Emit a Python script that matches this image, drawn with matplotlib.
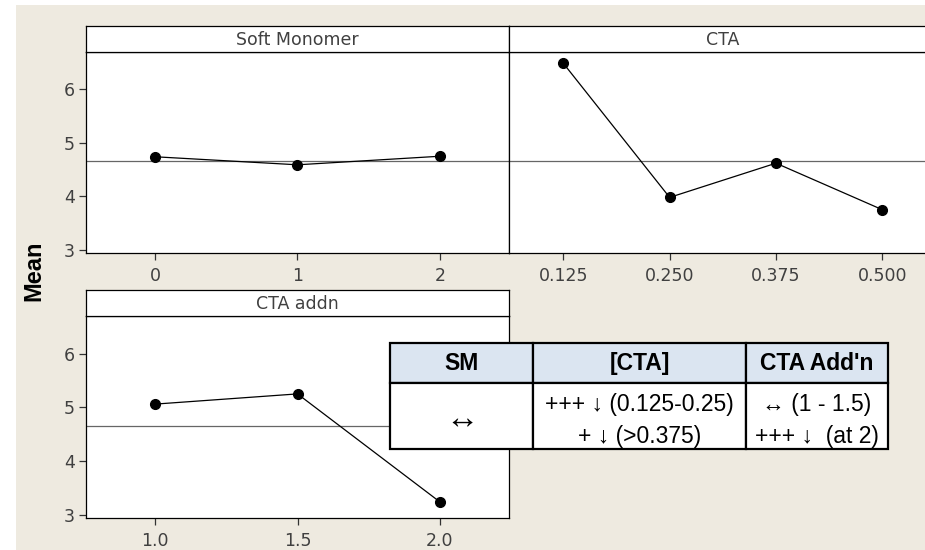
import matplotlib.pyplot as plt
from matplotlib.patches import Rectangle

# --- data ---
sm_levels = [0, 1, 2]
sm_means = [4.74, 4.59, 4.75]
cta_levels = [0.125, 0.250, 0.375, 0.500]
cta_labels = ["0.125", "0.250", "0.375", "0.500"]
cta_means = [6.49, 3.98, 4.62, 3.75]
addn_levels = [1.0, 1.5, 2.0]
addn_labels = ["1.0", "1.5", "2.0"]
addn_means = [5.06, 5.25, 3.24]
grand_mean = 4.66

y_ticks = [3, 4, 5, 6]
panel_titles = ["Soft Monomer", "CTA", "CTA addn"]

table_header = ["SM", "[CTA]", "CTA Add'n"]
table_body = [["\u2194"],
              ["+++ \u2193 (0.125-0.25)", "+ \u2193 (>0.375)"],
              ["\u2194 (1 - 1.5)", "+++ \u2193  (at 2)"]]

W, H = 925, 550
BG = "#eeeae0"
TXT = "#404040"
LABEL_FONT = ["DejaVu Sans"]
TABLE_FONT = ["Liberation Sans", "DejaVu Sans"]

fig = plt.figure(figsize=(W / 100, H / 100), dpi=100)
fig.patch.set_facecolor("white")


def fx(x):
    return x / W


def fy(y):
    return 1 - y / H


def box(x0, y0, x1, y1):
    # pixel box (top-left origin) -> figure fraction rect
    return [fx(x0), fy(y1), (x1 - x0) / W, (y1 - y0) / H]


fig.patches.append(Rectangle((fx(16), 0), 1, fy(5), transform=fig.transFigure,
                             facecolor=BG, edgecolor="none", zorder=-10))


def panel(rect, strip_rect, title, levels, means, xlim, ticklabels, show_y):
    ax = fig.add_axes(rect)
    ax.set_facecolor("white")
    ax.axhline(grand_mean, color="#666666", lw=0.9, zorder=1)
    ax.plot(levels, means, color="black", lw=0.9, marker="o", ms=7, zorder=3)
    ax.set_xlim(*xlim)
    ax.set_ylim(2.94, 6.70)
    ax.set_xticks(levels)
    ax.set_xticklabels(ticklabels)
    if show_y:
        ax.set_yticks(y_ticks)
    else:
        ax.set_yticks([])
    ax.tick_params(direction="out", length=5, width=0.9, color="#333333",
                   labelsize=12.5, labelcolor=TXT, pad=3)
    ax.tick_params(axis="x", pad=5)
    for lab in ax.get_xticklabels() + ax.get_yticklabels():
        lab.set_family(LABEL_FONT)
    for s in ax.spines.values():
        s.set_linewidth(0.9)
        s.set_color("black")

    st = fig.add_axes(strip_rect)
    st.set_facecolor("white")
    st.set_xticks([])
    st.set_yticks([])
    for s in st.spines.values():
        s.set_linewidth(0.9)
        s.set_color("black")
    st.text(0.5, 0.45, title, ha="center", va="center", fontsize=12.5,
            color=TXT, family=LABEL_FONT, transform=st.transAxes)
    return ax


panel(box(86, 52, 509, 253), box(86, 26, 509, 52), panel_titles[0],
      sm_levels, sm_means, (-0.486, 2.486), [str(v) for v in sm_levels], True)
panel(box(509, 52, 936.6, 253), box(509, 26, 936.6, 52), panel_titles[1],
      cta_levels, cta_means, (0.0612, 0.5638), cta_labels, False)
panel(box(86, 316, 509, 518), box(86, 290, 509, 316), panel_titles[2],
      addn_levels, addn_means, (0.757, 2.243), addn_labels, True)

fig.text(fx(34), fy(271), "Mean", rotation=90, ha="center", va="center",
         fontsize=17, fontweight="heavy", family=TABLE_FONT, color="black")

# --- summary table drawn on the figure ---
col_x = [390, 533.3, 745.7, 888]
row_y = [342.7, 382.7, 449]
for i in range(3):
    x0, x1 = col_x[i], col_x[i + 1]
    fig.patches.append(Rectangle((fx(x0), fy(row_y[1])), (x1 - x0) / W,
                                 (row_y[1] - row_y[0]) / H, transform=fig.transFigure,
                                 facecolor="#dbe5f1", edgecolor="black", lw=1.6, zorder=20))
    fig.patches.append(Rectangle((fx(x0), fy(row_y[2])), (x1 - x0) / W,
                                 (row_y[2] - row_y[1]) / H, transform=fig.transFigure,
                                 facecolor="white", edgecolor="black", lw=1.6, zorder=20))
    cx = (x0 + x1) / 2
    fig.text(fx(cx), fy((row_y[0] + row_y[1]) / 2 + 1), table_header[i], ha="center",
             va="center", fontsize=16.5, fontweight="bold", family=TABLE_FONT, zorder=21)
    lines = table_body[i]
    if len(lines) == 1:
        fig.text(fx(cx), fy(419), lines[0], ha="center", va="center", fontsize=24,
                 family=TABLE_FONT, zorder=21)
    else:
        for ln, yy in zip(lines, [405, 436.5]):
            fig.text(fx(cx), fy(yy), ln, ha="center", va="center", fontsize=16.5,
                     family=TABLE_FONT, zorder=21)

fig.savefig("out.png", dpi=100)
